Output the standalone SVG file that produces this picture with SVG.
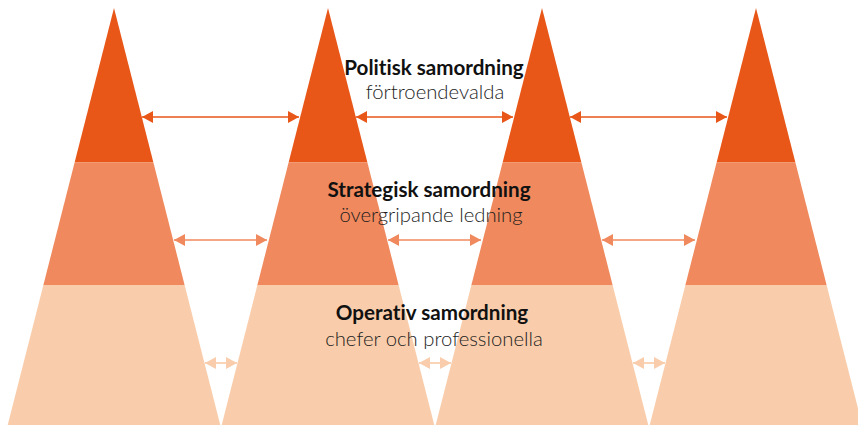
<svg xmlns="http://www.w3.org/2000/svg" width="858" height="425" viewBox="0 0 858 425">
<style>
.t1{fill:#E85618}
.t2{fill:#F0895D}
.t3{fill:#F9CDAB}
.a1{stroke:#E85618;stroke-width:1.7;fill:none}
.a2{stroke:#F0895D;stroke-width:1.7;fill:none}
.a3{stroke:#F9CDAB;stroke-width:1.7;fill:none}
text{font-variant-ligatures:none;font-feature-settings:"liga" 0,"clig" 0}
.h{font-family:Lato,"Liberation Sans",sans-serif;font-weight:700;font-size:20.6px;fill:#111;text-anchor:middle}
.s{font-family:Lato,"Liberation Sans",sans-serif;font-weight:300;font-size:20.3px;fill:#1e1e1e;text-anchor:middle}
</style>
<defs>
<marker id="m1" markerUnits="userSpaceOnUse" markerWidth="12" markerHeight="13" refX="11" refY="6" orient="auto-start-reverse" viewBox="0 0 12 12"><path d="M0,0 L11,6 L0,12 z" fill="#E85618"/></marker>
<marker id="m2" markerUnits="userSpaceOnUse" markerWidth="12" markerHeight="13" refX="11" refY="6" orient="auto-start-reverse" viewBox="0 0 12 12"><path d="M0,0 L11,6 L0,12 z" fill="#F0895D"/></marker>
<marker id="m3" markerUnits="userSpaceOnUse" markerWidth="12" markerHeight="13" refX="11" refY="6" orient="auto-start-reverse" viewBox="0 0 12 12"><path d="M0,0 L11,6 L0,12 z" fill="#F9CDAB"/></marker>
</defs>
<g id="pyramid1">
<polygon class="t1" points="114,8 153.4,162.5 74.6,162.5"/>
<polygon class="t2" points="74.6,162.5 153.4,162.5 184.6,285 43.4,285"/>
<polygon class="t3" points="43.4,285 184.6,285 220.3,425 7.7,425"/>
</g>
<g id="pyramid2" transform="translate(214,0)">
<polygon class="t1" points="114,8 153.4,162.5 74.6,162.5"/>
<polygon class="t2" points="74.6,162.5 153.4,162.5 184.6,285 43.4,285"/>
<polygon class="t3" points="43.4,285 184.6,285 220.3,425 7.7,425"/>
</g>
<g id="pyramid3" transform="translate(428,0)">
<polygon class="t1" points="114,8 153.4,162.5 74.6,162.5"/>
<polygon class="t2" points="74.6,162.5 153.4,162.5 184.6,285 43.4,285"/>
<polygon class="t3" points="43.4,285 184.6,285 220.3,425 7.7,425"/>
</g>
<g id="pyramid4" transform="translate(642,0)">
<polygon class="t1" points="114,8 153.4,162.5 74.6,162.5"/>
<polygon class="t2" points="74.6,162.5 153.4,162.5 184.6,285 43.4,285"/>
<polygon class="t3" points="43.4,285 184.6,285 220.3,425 7.7,425"/>
</g>
<g id="connectors">
<line class="a1" x1="142" y1="117" x2="299" y2="117" marker-start="url(#m1)" marker-end="url(#m1)"/>
<line class="a1" x1="356" y1="117" x2="513" y2="117" marker-start="url(#m1)" marker-end="url(#m1)"/>
<line class="a1" x1="570" y1="117" x2="727" y2="117" marker-start="url(#m1)" marker-end="url(#m1)"/>
<line class="a2" x1="174" y1="240" x2="267" y2="240" marker-start="url(#m2)" marker-end="url(#m2)"/>
<line class="a2" x1="388" y1="240" x2="481" y2="240" marker-start="url(#m2)" marker-end="url(#m2)"/>
<line class="a2" x1="602" y1="240" x2="695" y2="240" marker-start="url(#m2)" marker-end="url(#m2)"/>
<line class="a3" x1="205" y1="363" x2="237" y2="363" marker-start="url(#m3)" marker-end="url(#m3)"/>
<line class="a3" x1="419" y1="363" x2="451" y2="363" marker-start="url(#m3)" marker-end="url(#m3)"/>
<line class="a3" x1="633" y1="363" x2="665" y2="363" marker-start="url(#m3)" marker-end="url(#m3)"/>
</g>
<g id="labels">
<text class="h" x="434" y="75">Politisk samordning</text>
<text class="s" x="435" y="99">förtroendevalda</text>
<text class="h" x="429" y="197">Strategisk samordning</text>
<text class="s" x="431" y="222">övergripande ledning</text>
<text class="h" x="432" y="320">Operativ samordning</text>
<text class="s" x="434" y="346">chefer och professionella</text>
</g>
</svg>
